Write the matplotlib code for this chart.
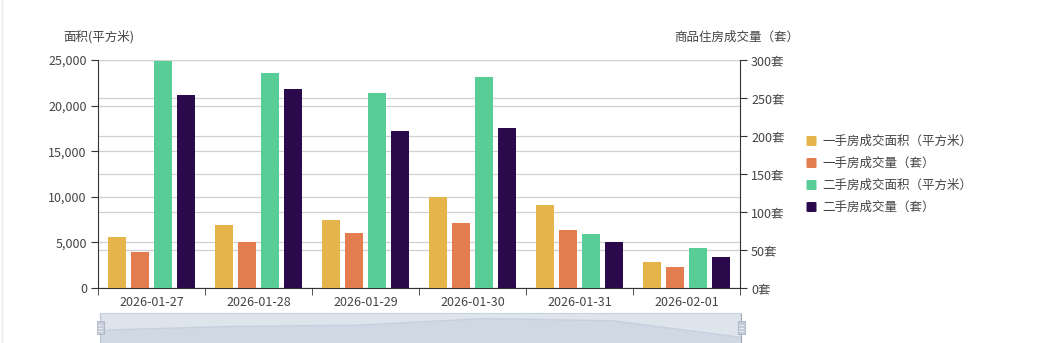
import matplotlib
matplotlib.use("Agg")
import matplotlib.pyplot as plt
import numpy as np
from matplotlib.patches import Rectangle, FancyBboxPatch
from matplotlib.lines import Line2D
from matplotlib.ticker import FuncFormatter, MultipleLocator

plt.rcParams['font.family'] = ['Noto Sans CJK SC', 'DejaVu Sans']

dates = ['2026-01-27', '2026-01-28', '2026-01-29', '2026-01-30', '2026-01-31', '2026-02-01']
first_area = [5560, 6940, 7460, 9940, 9130, 2850]      # 一手房成交面积（平方米）
first_count = [47, 60, 72, 86, 76, 27]                 # 一手房成交量（套）
second_area = [24890, 23540, 21350, 23170, 5920, 4420]  # 二手房成交面积（平方米）
second_count = [254, 262, 206, 210, 61, 41]            # 二手房成交量（套）

series_names = ['一手房成交面积（平方米）', '一手房成交量（套）', '二手房成交面积（平方米）', '二手房成交量（套）']
colors = ['#E5B54B', '#E37C4F', '#58CD97', '#2B0A4B']

W, H = 1060, 343
fig = plt.figure(figsize=(W / 100, H / 100), dpi=100)
fig.patch.set_facecolor('white')

def fx(px):
    return px / W

def fy(py):
    return 1 - py / H

left, right, top, bottom = 98, 740, 60, 288
LMAX, RMAX = 25000, 300

# background axes carrying both sets of grid lines
gax = fig.add_axes([fx(left), fy(bottom), fx(right - left), (bottom - top) / H])
gax.set_ylim(0, 1)
gax.set_xlim(0, 1)
gax.axis('off')
grid_c = '#d0d0d0'
for v in np.arange(0, LMAX + 1, 5000):
    gax.axhline(v / LMAX, color=grid_c, linewidth=0.9)
for v in np.arange(0, RMAX + 1, 50):
    gax.axhline(v / RMAX, color=grid_c, linewidth=0.9)

ax = fig.add_axes([fx(left), fy(bottom), fx(right - left), (bottom - top) / H])
ax2 = ax.twinx()

x = np.arange(len(dates))
step = 0.213
bw = 0.166
offs = [-1.5, -0.5, 0.5, 1.5]

ax.bar(x + offs[0] * step, first_area, bw, color=colors[0], zorder=3)
ax2.bar(x + offs[1] * step, first_count, bw, color=colors[1], zorder=3)
ax.bar(x + offs[2] * step, second_area, bw, color=colors[2], zorder=3)
ax2.bar(x + offs[3] * step, second_count, bw, color=colors[3], zorder=3)

ax.set_xlim(-0.5, len(dates) - 0.5)
ax.set_ylim(0, LMAX)
ax2.set_ylim(0, RMAX)
ax.yaxis.set_major_locator(MultipleLocator(5000))
ax2.yaxis.set_major_locator(MultipleLocator(50))
ax.yaxis.set_major_formatter(FuncFormatter(lambda v, p: f'{int(v):,}'))
ax2.yaxis.set_major_formatter(FuncFormatter(lambda v, p: f'{int(v)}套'))

for a in (ax, ax2):
    a.patch.set_visible(False)
    for s in a.spines.values():
        s.set_visible(False)

ax.spines['left'].set_visible(True)
ax.spines['left'].set_color('#333333')
ax.spines['bottom'].set_visible(True)
ax.spines['bottom'].set_color('#333333')
ax2.spines['right'].set_visible(True)
ax2.spines['right'].set_color('#333333')

txt_c = '#444444'
ax.set_xticks(x)
ax.set_xticklabels(dates)
ax.set_xticks(np.arange(-0.5, len(dates), 1.0), minor=True)
ax.tick_params(axis='x', which='major', length=0, pad=6, labelsize=9, labelcolor=txt_c)
ax.tick_params(axis='x', which='minor', length=5, color='#333333', direction='out')
ax.tick_params(axis='y', length=5, color='#333333', labelsize=9, labelcolor=txt_c, pad=3)
ax2.tick_params(axis='y', length=5, color='#333333', labelsize=9, labelcolor=txt_c, pad=3)

fig.text(fx(99), fy(37), '面积(平方米)', ha='center', va='center', fontsize=9, color=txt_c)
fig.text(fx(737), fy(37), '商品住房成交量（套）', ha='center', va='center', fontsize=9, color=txt_c)

# legend
leg_y = [141, 163, 185, 207]
for name, c, yy in zip(series_names, colors, leg_y):
    fig.patches.append(FancyBboxPatch((fx(806.5), fy(yy + 5)), fx(10), 10 / H,
                                      boxstyle='round,pad=0,rounding_size=0.002',
                                      transform=fig.transFigure, facecolor=c, edgecolor='none'))
    fig.text(fx(822), fy(yy), name, ha='left', va='center', fontsize=9, color=txt_c)

# left page border
fig.add_artist(Line2D([fx(2), fx(2)], [0, 1], transform=fig.transFigure, color='#e8e8e8', linewidth=1))

# data zoom slider
sl, sr, st, sb = 100, 741, 313, 343
sax = fig.add_axes([fx(sl), fy(sb), fx(sr - sl), (sb - st) / H])
sax.set_facecolor('#dde4ec')
rng = max(first_area) - min(first_area)
sax.set_ylim(min(first_area) - 0.3 * rng, max(first_area) + 0.3 * rng)
sax.set_xlim(0, len(dates) - 1)
sax.fill_between(np.arange(len(dates)), first_area, sax.get_ylim()[0], color='#cfd8e3', linewidth=0)
sax.plot(np.arange(len(dates)), first_area, color='#c5d0de', linewidth=1)
sax.set_xticks([])
sax.set_yticks([])
for s in sax.spines.values():
    s.set_visible(False)
sax.spines['top'].set_visible(True)
sax.spines['top'].set_color('#c8d2de')
sax.spines['left'].set_visible(True)
sax.spines['left'].set_color('#b8c3d1')
sax.spines['right'].set_visible(True)
sax.spines['right'].set_color('#9aa6b6')

for hx in (sl, sr):
    fig.patches.append(Rectangle((fx(hx - 3.5), fy(334)), fx(7), 13 / H, transform=fig.transFigure,
                                 facecolor='#c3ccd8', edgecolor='#aab5c3', linewidth=0.6))
    for ly in (325, 328, 331):
        fig.add_artist(Line2D([fx(hx - 2), fx(hx + 2)], [fy(ly), fy(ly)], transform=fig.transFigure,
                              color='#eef2f6', linewidth=0.6))

fig.savefig('out.png', dpi=100, facecolor='white')
